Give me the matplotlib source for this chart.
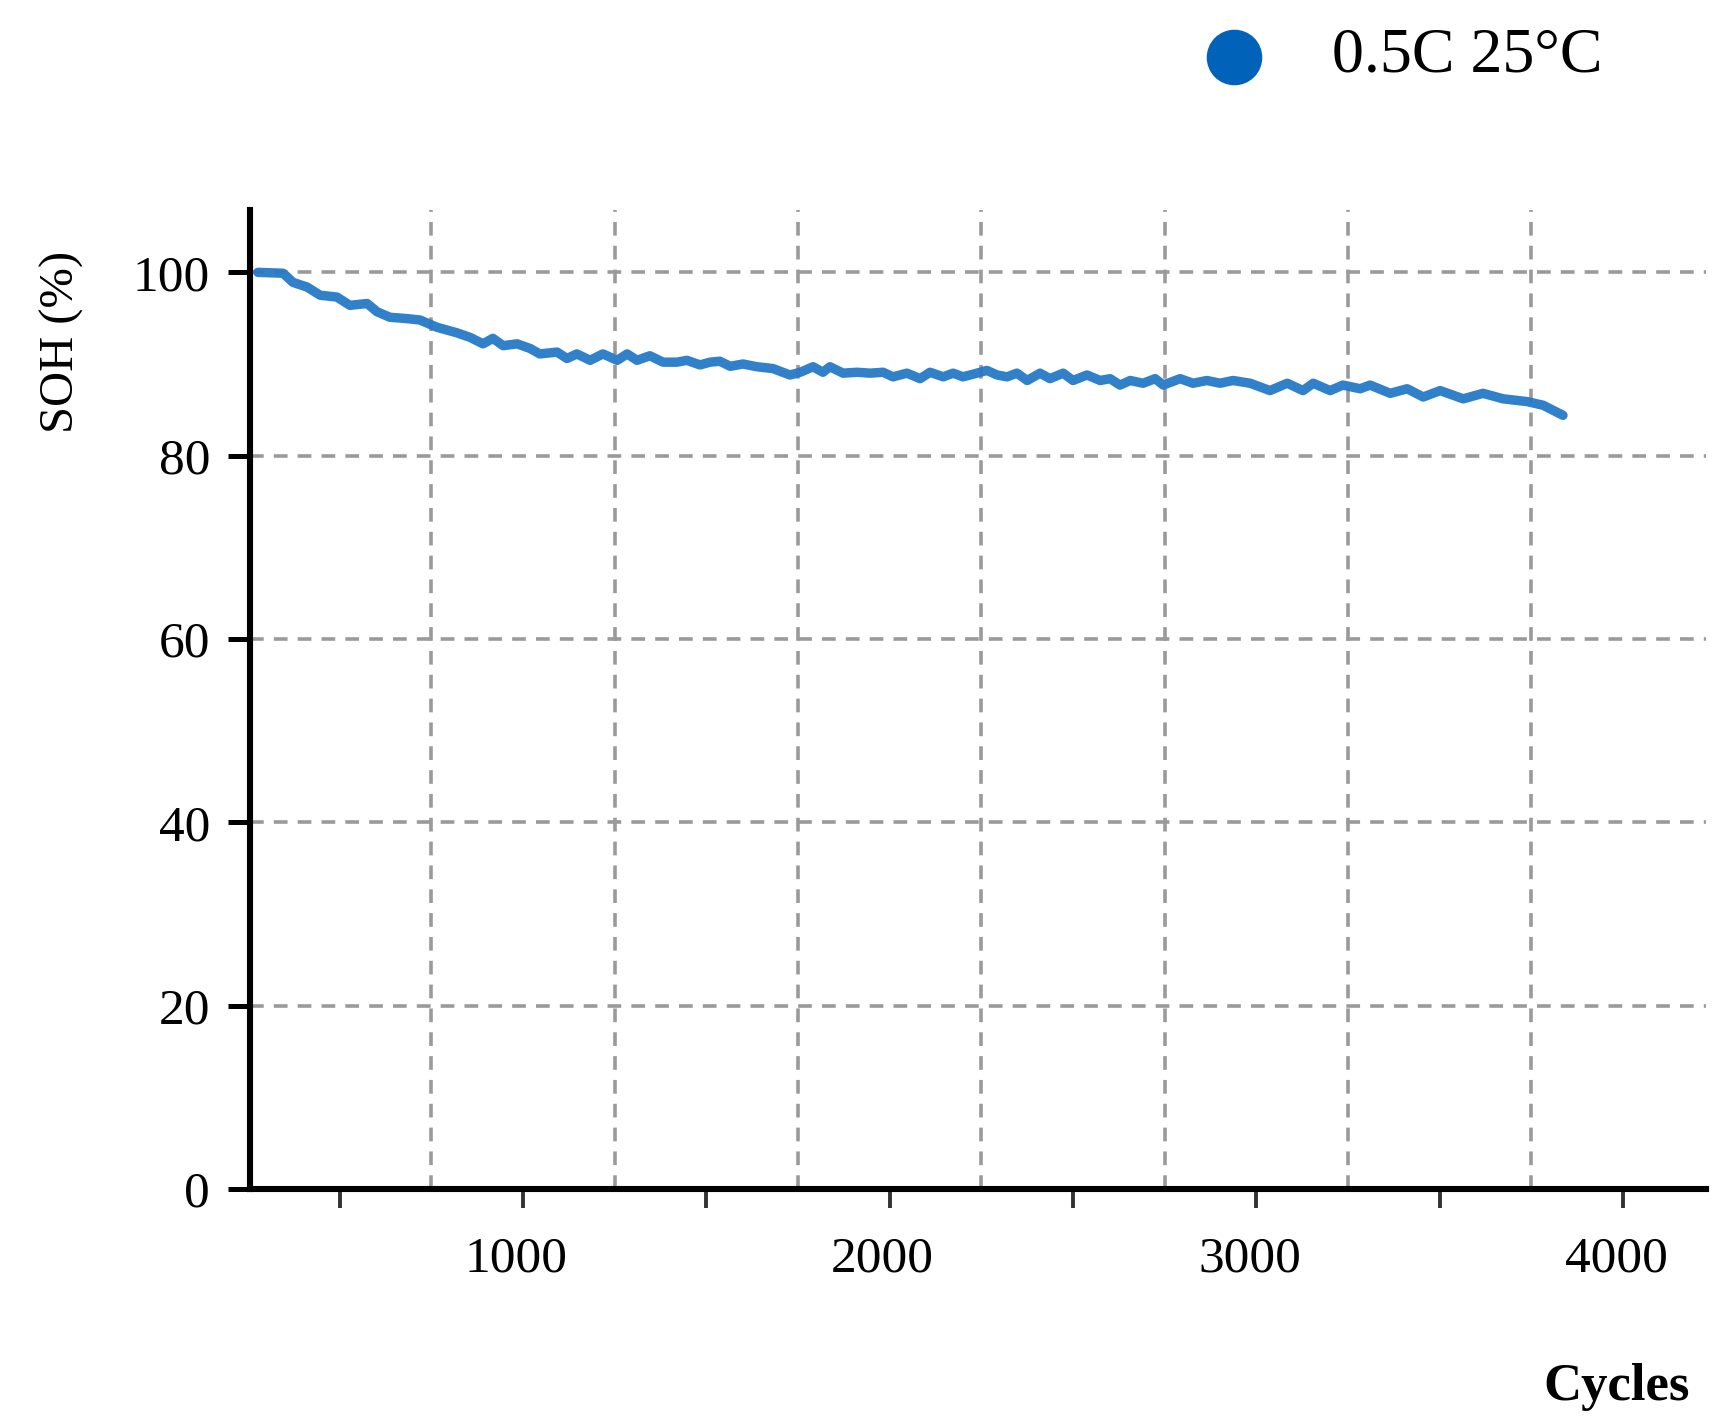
import matplotlib
matplotlib.use("Agg")
import matplotlib.pyplot as plt
from matplotlib.ticker import MultipleLocator, FuncFormatter
from matplotlib.lines import Line2D
import matplotlib.transforms as mtransforms

# ---- data ----
cycles = [277, 346, 373, 411, 447, 493, 528, 575, 602, 637, 684, 719, 766, 820,
          856, 891, 918, 946, 984, 1019, 1046, 1093, 1120, 1147, 1183, 1218, 1257,
          1284, 1311, 1346, 1382, 1420, 1447, 1483, 1510, 1537, 1565, 1600, 1638,
          1682, 1728, 1756, 1791, 1818, 1837, 1873, 1911, 1947, 1982, 2009, 2047,
          2083, 2110, 2146, 2173, 2200, 2238, 2265, 2293, 2320, 2347, 2375, 2410,
          2437, 2473, 2500, 2538, 2574, 2601, 2628, 2656, 2691, 2724, 2746, 2792,
          2827, 2865, 2901, 2936, 2983, 3037, 3084, 3127, 3155, 3201, 3236, 3283,
          3310, 3365, 3411, 3455, 3501, 3564, 3618, 3673, 3738, 3782, 3836]
soh = [100.0, 99.9, 98.9, 98.4, 97.5, 97.3, 96.4, 96.6, 95.7, 95.1, 94.95, 94.8,
       94.0, 93.4, 92.9, 92.2, 92.8, 92.0, 92.2, 91.7, 91.1, 91.3, 90.6, 91.1,
       90.4, 91.1, 90.4, 91.1, 90.4, 90.9, 90.2, 90.2, 90.4, 89.9, 90.2, 90.3,
       89.75, 90.0, 89.7, 89.5, 88.8, 89.1, 89.7, 89.1, 89.7, 89.0, 89.1, 89.0,
       89.1, 88.6, 89.0, 88.4, 89.1, 88.6, 89.0, 88.6, 89.0, 89.3, 88.8, 88.6,
       89.0, 88.2, 89.0, 88.4, 89.0, 88.2, 88.8, 88.2, 88.4, 87.7, 88.2, 87.9,
       88.4, 87.7, 88.4, 87.9, 88.2, 87.9, 88.2, 87.9, 87.1, 87.9, 87.1, 87.9,
       87.1, 87.7, 87.3, 87.7, 86.8, 87.3, 86.4, 87.1, 86.2, 86.8, 86.2, 85.9,
       85.5, 84.4]
series_label = "0.5C 25°C"
y_ticks = [0, 20, 40, 60, 80, 100]
x_tick_labels = [1000, 2000, 3000, 4000]
x_grid = [750, 1250, 1750, 2250, 2750, 3250, 3750]

W, H = 1715, 1417
fig = plt.figure(figsize=(W / 100, H / 100), dpi=100)
plt.rcParams['font.family'] = ['Liberation Serif', 'DejaVu Serif']

left, right = 250.5 / W, 1706 / W
bottom, top = (H - 1189) / H, (H - 210) / H
ax = fig.add_axes([left, bottom, right - left, top - bottom])

line_color = '#2679c8'
ax.plot(cycles, soh, color=line_color, lw=6.8, solid_joinstyle='round',
        solid_capstyle='round', zorder=3, alpha=0.95)

ax.set_xlim(257, 4226)
ax.set_ylim(0, 106.8)

# grid
grid_kw = dict(color='#9a9a9a', lw=2.6, ls=(0, (3.8, 2.8)), zorder=1)
for yv in y_ticks[1:]:
    ax.axhline(yv, **grid_kw)
for xv in x_grid:
    ax.axvline(xv, **grid_kw)

# spines
for s in ['top', 'right']:
    ax.spines[s].set_visible(False)
for s in ['left', 'bottom']:
    ax.spines[s].set_linewidth(4.4)
    ax.spines[s].set_color('black')
    ax.spines[s].set_zorder(4)

ax.set_yticks(y_ticks)
ax.xaxis.set_major_locator(MultipleLocator(500))
ax.xaxis.set_major_formatter(FuncFormatter(
    lambda v, p: f"{int(v)}" if int(v) in x_tick_labels else ""))
ax.tick_params(axis='y', length=16, width=3.6, pad=13, labelsize=37)
ax.tick_params(axis='x', length=14, width=2.8, pad=20, labelsize=37, color='#333333')

# x tick labels sit slightly left of their ticks in the reference
offset = mtransforms.ScaledTranslation(-7 / 100, 0, fig.dpi_scale_trans)
for lbl in ax.get_xticklabels():
    lbl.set_transform(lbl.get_transform() + offset)

# labels
fig.text(62 / W, 1 - 342 / H, "SOH (%)", rotation=90, fontsize=35,
         ha='center', va='center')
fig.text(1690 / W, 1 - 1387 / H, "Cycles", fontsize=38, fontweight='bold',
         ha='right', va='center')

# legend
fig.add_artist(Line2D([1234 / W], [1 - 57 / H], marker='o', markersize=39,
                      color='#0062b8', lw=0, transform=fig.transFigure))
fig.text(1332 / W, 1 - 57 / H, series_label, fontsize=46, ha='left', va='center')

fig.savefig("out.png", dpi=100)
